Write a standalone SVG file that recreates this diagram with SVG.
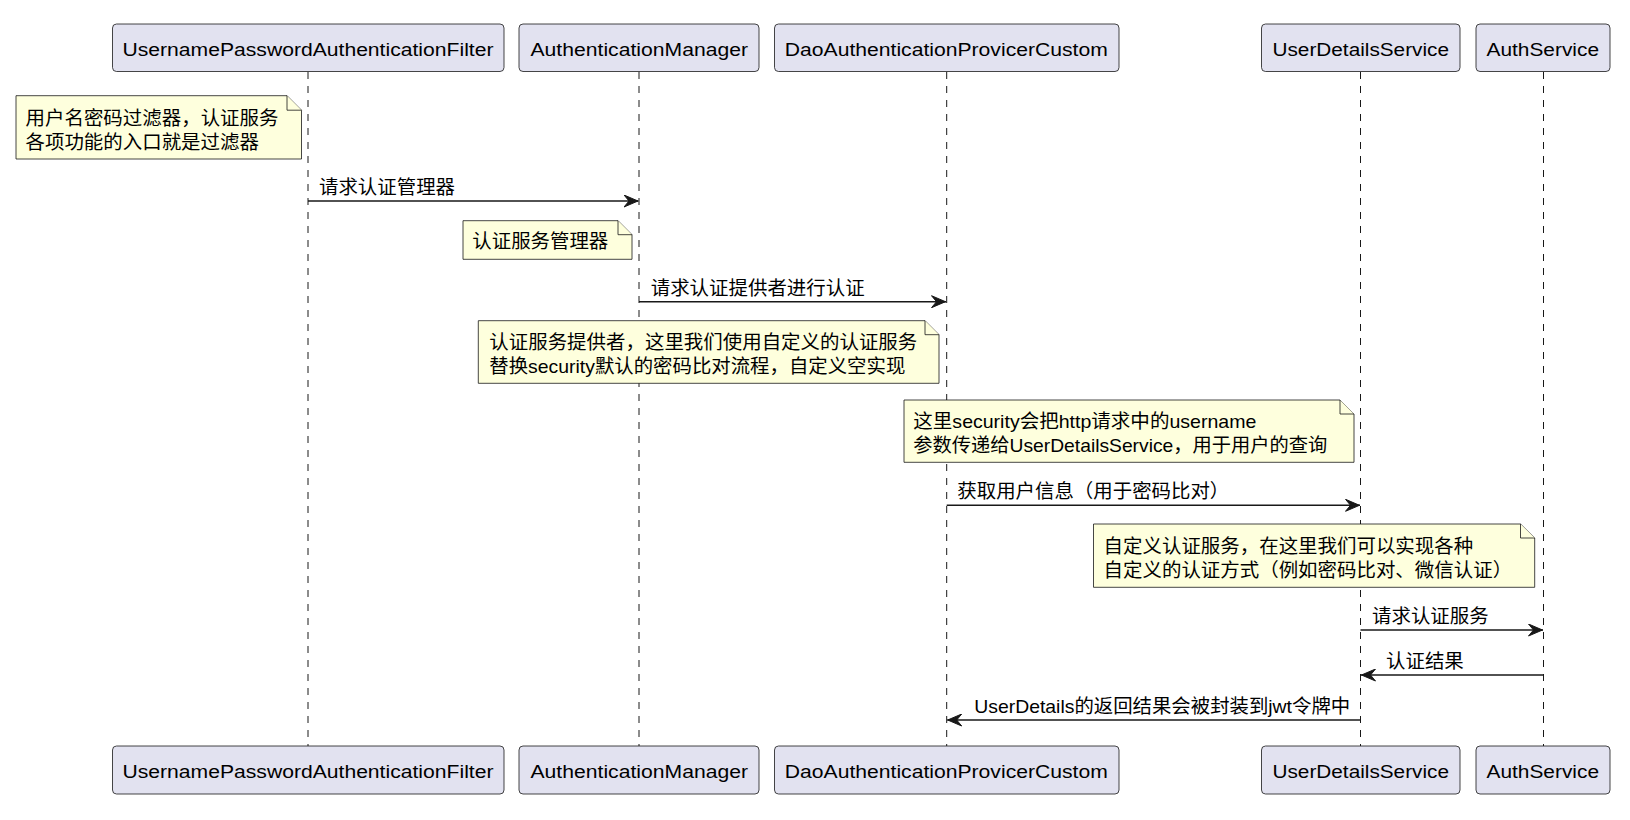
<svg xmlns="http://www.w3.org/2000/svg" width="1630" height="820" viewBox="0 0 1630 820">
<style>
text{font-family:"Liberation Sans","Noto Sans CJK SC",sans-serif;font-size:19px;fill:#000}
.pn{font-size:17.5px}
.box{fill:#E2E2F0;stroke:#181818;stroke-width:0.8}
.life{stroke:#181818;stroke-width:1;stroke-dasharray:7,7;fill:none}
.note{fill:#FEFFDD;stroke:#181818;stroke-width:0.8}
.msg{stroke:#181818;stroke-width:1.4;fill:none}
.ah{fill:#181818;stroke:#181818;stroke-width:1}
</style>
<defs>
<marker id="arr" viewBox="0 0 15 13" refX="15" refY="6.5" markerWidth="15" markerHeight="13" markerUnits="userSpaceOnUse" orient="auto">
<polygon class="ah" points="0.5,0.5 14.5,6.5 0.5,12.5 5.5,6.5"/>
</marker>
</defs>
<rect width="1630" height="820" fill="#FFFFFF"/>

<g id="p1">
<line class="life" x1="308" y1="72" x2="308" y2="746"/>
<rect class="box" x="112.5" y="24" width="391.5" height="47.5" rx="4"/>
<text class="pn" x="122.5" y="55.5" textLength="371" lengthAdjust="spacingAndGlyphs">UsernamePasswordAuthenticationFilter</text>
<rect class="box" x="112.5" y="746" width="391.5" height="48" rx="4"/>
<text class="pn" x="122.5" y="777.5" textLength="371" lengthAdjust="spacingAndGlyphs">UsernamePasswordAuthenticationFilter</text>
</g>
<g id="p2">
<line class="life" x1="639" y1="72" x2="639" y2="746"/>
<rect class="box" x="519" y="24" width="240" height="47.5" rx="4"/>
<text class="pn" x="530.5" y="55.5" textLength="217.5" lengthAdjust="spacingAndGlyphs">AuthenticationManager</text>
<rect class="box" x="519" y="746" width="240" height="48" rx="4"/>
<text class="pn" x="530.5" y="777.5" textLength="217.5" lengthAdjust="spacingAndGlyphs">AuthenticationManager</text>
</g>
<g id="p3">
<line class="life" x1="946.7" y1="72" x2="946.7" y2="746"/>
<rect class="box" x="774.5" y="24" width="344.5" height="47.5" rx="4"/>
<text class="pn" x="784.8" y="55.5" textLength="323" lengthAdjust="spacingAndGlyphs">DaoAuthenticationProvicerCustom</text>
<rect class="box" x="774.5" y="746" width="344.5" height="48" rx="4"/>
<text class="pn" x="784.8" y="777.5" textLength="323" lengthAdjust="spacingAndGlyphs">DaoAuthenticationProvicerCustom</text>
</g>
<g id="p4">
<line class="life" x1="1360.5" y1="72" x2="1360.5" y2="746"/>
<rect class="box" x="1261.5" y="24" width="198.5" height="47.5" rx="4"/>
<text class="pn" x="1272.5" y="55.5" textLength="176.5" lengthAdjust="spacingAndGlyphs">UserDetailsService</text>
<rect class="box" x="1261.5" y="746" width="198.5" height="48" rx="4"/>
<text class="pn" x="1272.5" y="777.5" textLength="176.5" lengthAdjust="spacingAndGlyphs">UserDetailsService</text>
</g>
<g id="p5">
<line class="life" x1="1543.5" y1="72" x2="1543.5" y2="746"/>
<rect class="box" x="1476" y="24" width="134" height="47.5" rx="4"/>
<text class="pn" x="1486.5" y="55.5" textLength="112.5" lengthAdjust="spacingAndGlyphs">AuthService</text>
<rect class="box" x="1476" y="746" width="134" height="48" rx="4"/>
<text class="pn" x="1486.5" y="777.5" textLength="112.5" lengthAdjust="spacingAndGlyphs">AuthService</text>
</g>

<g id="note1">
<path class="note" d="M16,95.7 H287 L301.5,110.2 V159 H16 Z"/>
<path class="note" d="M287,95.7 V110.2 H301.5" fill="none"/>
<text x="25.5" y="124.5" textLength="253" lengthAdjust="spacingAndGlyphs">用户名密码过滤器，认证服务</text>
<text x="25.5" y="148.8" textLength="233.4" lengthAdjust="spacingAndGlyphs">各项功能的入口就是过滤器</text>
</g>
<g id="note2">
<path class="note" d="M463,220.7 H618 L632,234.7 V259.3 H463 Z"/>
<path class="note" d="M618,220.7 V234.7 H632" fill="none"/>
<text x="472.3" y="248" textLength="136" lengthAdjust="spacingAndGlyphs">认证服务管理器</text>
</g>
<g id="note3">
<path class="note" d="M478.3,320.7 H925 L939,334.7 V383.3 H478.3 Z"/>
<path class="note" d="M925,320.7 V334.7 H939" fill="none"/>
<text x="489.3" y="348.5" textLength="428" lengthAdjust="spacingAndGlyphs">认证服务提供者，这里我们使用自定义的认证服务</text>
<text x="489.3" y="373" textLength="416" lengthAdjust="spacingAndGlyphs">替换security默认的密码比对流程，自定义空实现</text>
</g>
<g id="note4">
<path class="note" d="M904,400 H1340 L1354,414 V462.3 H904 Z"/>
<path class="note" d="M1340,400 V414 H1354" fill="none"/>
<text x="913.3" y="428" textLength="343" lengthAdjust="spacingAndGlyphs">这里security会把http请求中的username</text>
<text x="913.3" y="452.3" textLength="414" lengthAdjust="spacingAndGlyphs">参数传递给UserDetailsService，用于用户的查询</text>
</g>
<g id="note5">
<path class="note" d="M1093.5,524 H1520.5 L1534.7,538 V587.3 H1093.5 Z"/>
<path class="note" d="M1520.5,524 V538 H1534.7" fill="none"/>
<text x="1103.6" y="552.5" textLength="369.6" lengthAdjust="spacingAndGlyphs">自定义认证服务，在这里我们可以实现各种</text>
<text x="1103.6" y="576.8" textLength="408.5" lengthAdjust="spacingAndGlyphs">自定义的认证方式（例如密码比对、微信认证）</text>
</g>

<g id="connectors">
<g id="m1">
<line class="msg" x1="308" y1="201" x2="638.5" y2="201" marker-end="url(#arr)"/>
<text x="319" y="194" textLength="136" lengthAdjust="spacingAndGlyphs">请求认证管理器</text>
</g>
<g id="m2">
<line class="msg" x1="639" y1="301.7" x2="946" y2="301.7" marker-end="url(#arr)"/>
<text x="650.7" y="294.5" textLength="214" lengthAdjust="spacingAndGlyphs">请求认证提供者进行认证</text>
</g>
<g id="m3">
<line class="msg" x1="946.7" y1="505.3" x2="1360" y2="505.3" marker-end="url(#arr)"/>
<text x="957.3" y="498" textLength="272" lengthAdjust="spacingAndGlyphs">获取用户信息（用于密码比对）</text>
</g>
<g id="m4">
<line class="msg" x1="1360.5" y1="630" x2="1543" y2="630" marker-end="url(#arr)"/>
<text x="1372" y="623" textLength="116.7" lengthAdjust="spacingAndGlyphs">请求认证服务</text>
</g>
<g id="m5">
<line class="msg" x1="1543.5" y1="675" x2="1361" y2="675" marker-end="url(#arr)"/>
<text x="1386" y="668" textLength="77.8" lengthAdjust="spacingAndGlyphs">认证结果</text>
</g>
<g id="m6">
<line class="msg" x1="1360.5" y1="720" x2="947.2" y2="720" marker-end="url(#arr)"/>
<text x="974.2" y="713" textLength="376" lengthAdjust="spacingAndGlyphs">UserDetails的返回结果会被封装到jwt令牌中</text>
</g>
</g>
</svg>
